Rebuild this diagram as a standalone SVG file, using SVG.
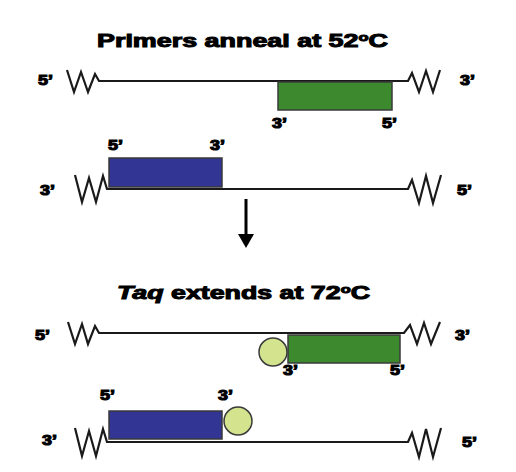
<svg xmlns="http://www.w3.org/2000/svg" width="516" height="472" viewBox="0 0 516 472">
<style>
.t{font-family:"Liberation Sans",Arial,sans-serif;font-weight:bold;font-size:18px;fill:#000;stroke:#000;stroke-width:1}
.l{font-family:"Liberation Sans",Arial,sans-serif;font-weight:bold;font-size:15px;fill:#000;stroke:#000;stroke-width:1.1}
.dna{fill:none;stroke:#1a1a1a;stroke-width:2.2;stroke-linejoin:miter}
.g{fill:#3d8a2e;stroke:#3a3a3a;stroke-width:1.5}
.b{fill:#323594;stroke:#3a3a3a;stroke-width:1.5}
.c{fill:#d3e38e;stroke:#3a3a3a;stroke-width:1.5}
</style>
<rect width="516" height="472" fill="#fff"/>
<g id="title1"><text class="t" x="97" y="47" textLength="291" lengthAdjust="spacingAndGlyphs">Primers anneal at 52<tspan font-size="11" dy="-6">o</tspan><tspan dy="6">C</tspan></text></g>
<g id="strand1">
<polyline class="dna" points="67,70 74,92 81,72 88,92 95,74 99,81 408,81 412,73 419,92 426,71 433,92 440,70"/>
<text class="l" x="38" y="85" textLength="15" lengthAdjust="spacingAndGlyphs">5’</text>
<text class="l" x="460" y="85" textLength="15" lengthAdjust="spacingAndGlyphs">3’</text>
</g>
<g id="primer1">
<rect class="g" x="278" y="82" width="114" height="28"/>
<text class="l" x="272" y="128" textLength="15" lengthAdjust="spacingAndGlyphs">3’</text>
<text class="l" x="382" y="128" textLength="15" lengthAdjust="spacingAndGlyphs">5’</text>
</g>
<g id="strand2">
<polyline class="dna" points="75,175 82,202 89,178 96,202 103,176 107,189 408,189 412,180 419,203 426,176 433,203 441,175"/>
<text class="l" x="40" y="195" textLength="15" lengthAdjust="spacingAndGlyphs">3’</text>
<text class="l" x="457" y="195" textLength="15" lengthAdjust="spacingAndGlyphs">5’</text>
</g>
<g id="primer2">
<rect class="b" x="109" y="158" width="113" height="29"/>
<text class="l" x="108" y="150" textLength="15" lengthAdjust="spacingAndGlyphs">5’</text>
<text class="l" x="210" y="150" textLength="15" lengthAdjust="spacingAndGlyphs">3’</text>
</g>
<g id="connectors">
<line x1="246" y1="199" x2="246" y2="237" stroke="#000" stroke-width="3"/>
<polygon points="238,234 254,234 246,248" fill="#000"/>
</g>
<g id="title2"><text class="t" x="117" y="299" textLength="253" lengthAdjust="spacingAndGlyphs"><tspan font-style="italic">Taq</tspan> extends at 72<tspan font-size="11" dy="-6">o</tspan><tspan dy="6">C</tspan></text></g>
<g id="strand3">
<polyline class="dna" points="68,322 75,344 82,324 88,344 95,326 99,333 404,333 410,325 417,344 424,323 431,344 440,322"/>
<text class="l" x="35" y="340" textLength="15" lengthAdjust="spacingAndGlyphs">5’</text>
<text class="l" x="455" y="340" textLength="15" lengthAdjust="spacingAndGlyphs">3’</text>
</g>
<g id="primer3">
<rect class="g" x="288" y="335" width="112" height="28"/>
<text class="l" x="283" y="375" textLength="15" lengthAdjust="spacingAndGlyphs">3’</text>
<text class="l" x="390" y="375" textLength="15" lengthAdjust="spacingAndGlyphs">5’</text>
</g>
<g id="taq1"><circle class="c" cx="273" cy="352" r="14"/></g>
<g id="strand4">
<polyline class="dna" points="75,428 82,456 89,431 96,456 103,429 107,442 408,442 412,433 419,457 426,429 433,457 441,428"/>
<text class="l" x="42" y="445" textLength="15" lengthAdjust="spacingAndGlyphs">3’</text>
<text class="l" x="462" y="447" textLength="15" lengthAdjust="spacingAndGlyphs">5’</text>
</g>
<g id="primer4">
<rect class="b" x="109" y="411" width="113" height="28"/>
<text class="l" x="100" y="400" textLength="15" lengthAdjust="spacingAndGlyphs">5’</text>
<text class="l" x="218" y="400" textLength="15" lengthAdjust="spacingAndGlyphs">3’</text>
</g>
<g id="taq2"><circle class="c" cx="238" cy="421" r="14"/></g>
</svg>
